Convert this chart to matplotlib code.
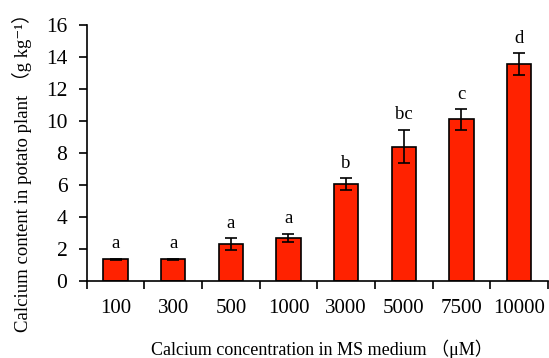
import numpy as np
from matplotlib import pyplot as plt

conc = ['100', '300', '500', '1000', '3000', '5000', '7500', '10000']
calcium = [1.35, 1.35, 2.3, 2.7, 6.05, 8.4, 10.1, 13.55]
err = [0.05, 0.05, 0.37, 0.25, 0.37, 1.05, 0.65, 0.7]
letters = ['a', 'a', 'a', 'a', 'b', 'bc', 'c', 'd']

fam = ['Liberation Serif', 'DejaVu Serif', 'Noto Sans CJK JP']
plt.rcParams['font.family'] = fam

fig = plt.figure(figsize=(5.49, 3.58), dpi=100)
ax = fig.add_axes([0.158, 0.215, 0.84, 0.715])

x = np.arange(len(conc))
ax.bar(x, calcium, width=0.42, color='#ff2200', edgecolor='black', linewidth=1.2,
       yerr=err, capsize=4, error_kw=dict(elinewidth=1.2, capthick=1.2, ecolor='black'))

for xi, v, e, lab in zip(x, calcium, err, letters):
    ax.text(xi, v + e + 0.4, lab, ha='center', va='bottom', fontsize=13.5)

ax.set_xlim(-0.5, len(conc) - 0.5)
ax.set_ylim(0, 16)
ax.set_yticks(range(0, 17, 2))
ax.set_xticks(x)
ax.set_xticklabels(conc)
ax.set_xticks(np.arange(-0.5, len(conc)), minor=True)
ax.tick_params(axis='x', which='major', length=0, pad=13, labelsize=15)
ax.tick_params(axis='x', which='minor', length=6, width=1.2, direction='out')
ax.tick_params(axis='y', length=6, width=1.2, labelsize=15.5, pad=8)

for s in ['top', 'right']:
    ax.spines[s].set_visible(False)
ax.spines['left'].set_linewidth(1.2)
ax.spines['bottom'].set_linewidth(1.2)

ax.set_xlabel('Calcium concentration in MS medium （μM）', fontsize=13)
ax.xaxis.set_label_coords(0.51, -0.289)
ax.xaxis.label.set_va('baseline')
ax.set_ylabel('Calcium content in potato plant （g kg⁻¹）', fontsize=13.5)
ax.yaxis.set_label_coords(-0.14, 0.443)
ax.yaxis.label.set_va('center')

plt.savefig('out.png', dpi=100)
plt.close()
